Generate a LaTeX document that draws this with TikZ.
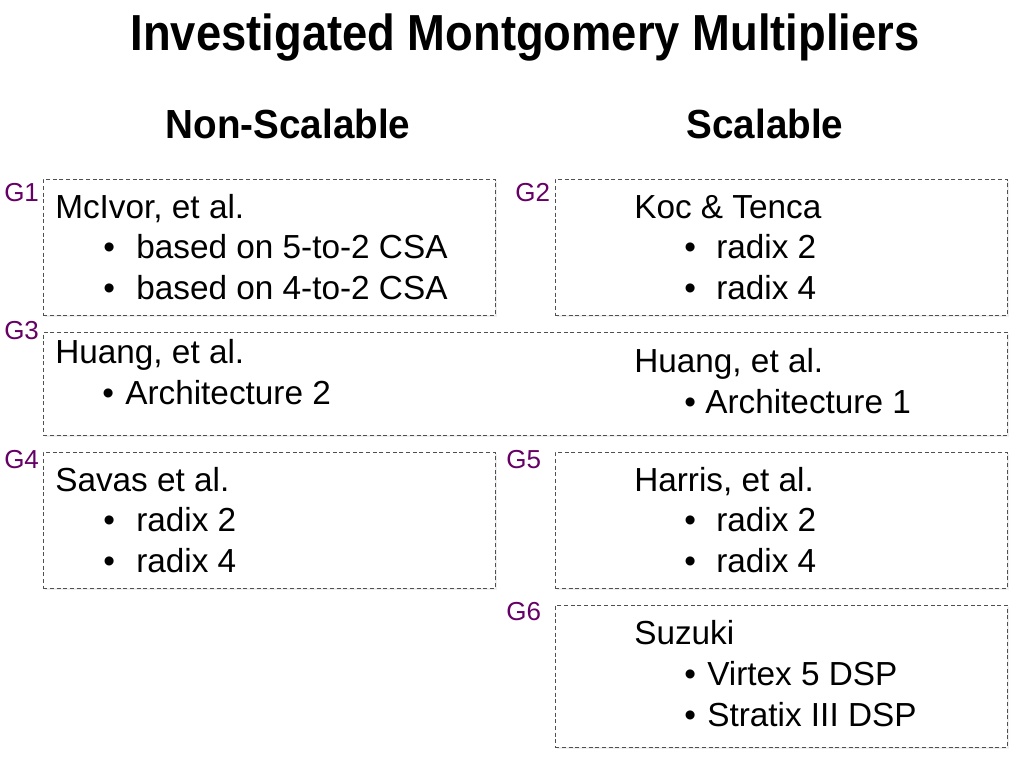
\documentclass[tikz,border=0pt]{standalone}
\usepackage{fontspec}
\usepackage{graphicx}
\setmainfont{Liberation Sans}
\usetikzlibrary{shadows}
\definecolor{glabel}{HTML}{660066}
\definecolor{boxline}{HTML}{505050}
\tikzset{
  gbox/.style={draw=boxline, line width=0.6pt, dash pattern=on 3pt off 2pt, fill=white,
    anchor=north west, inner sep=0pt,
    drop shadow={opacity=0.12, shadow xshift=1.2pt, shadow yshift=-1.2pt}},
  body/.style={anchor=base west, inner sep=0pt, font=\fontsize{25pt}{29pt}\selectfont},
  glab/.style={anchor=base west, inner sep=0pt, text=glabel, font=\fontsize{19.5pt}{22pt}\selectfont},
  head/.style={anchor=base, inner sep=0pt, font=\fontsize{30.5pt}{34pt}\selectfont\bfseries},
}
\begin{document}
\begin{tikzpicture}[x=0.75pt, y=-0.75pt]
\useasboundingbox (0,0) rectangle (1024,768);
\fill[white] (0,0) rectangle (1024,768);

% title and headings
\node[anchor=base, inner sep=0pt, font=\fontsize{38pt}{44pt}\selectfont\bfseries] (title) at (525,50) {\scalebox{0.895}[1]{Investigated Montgomery Multipliers}};
\node[head] (hns) at (288,138) {\scalebox{0.95}[1]{Non-Scalable}};
\node[head] (hs) at (765,138) {\scalebox{0.95}[1]{Scalable}};

% boxes
\node[gbox, minimum width=452*0.75pt, minimum height=136*0.75pt] (g1) at (43,179) {};
\node[gbox, minimum width=452*0.75pt, minimum height=136*0.75pt] (g2) at (555,179) {};
\node[gbox, minimum width=964*0.75pt, minimum height=103*0.75pt] (g3) at (43,332) {};
\node[gbox, minimum width=452*0.75pt, minimum height=136*0.75pt] (g4) at (43,452) {};
\node[gbox, minimum width=452*0.75pt, minimum height=136*0.75pt] (g5) at (555,452) {};
\node[gbox, minimum width=452*0.75pt, minimum height=142*0.75pt] (g6) at (555,605) {};

% group labels
\node[glab] (l1) at (4,201) {G1};
\node[glab] (l2) at (515,201) {G2};
\node[glab] (l3) at (4,339) {G3};
\node[glab] (l4) at (4,468) {G4};
\node[glab] (l5) at (506,468) {G5};
\node[glab] (l6) at (506,620) {G6};

% G1
\node[body] (t1) at (55,218) {McIvor, et al.};
\node[body] (b1a) at (103,258) {•};
\node[body] (t1a) at (136,258) {based on 5-to-2 CSA};
\node[body] (b1b) at (103,299) {•};
\node[body] (t1b) at (136,299) {based on 4-to-2 CSA};

% G2
\node[body] (t2) at (634,218) {Koc \& Tenca};
\node[body] (b2a) at (684,258) {•};
\node[body] (t2a) at (716,258) {radix 2};
\node[body] (b2b) at (684,299) {•};
\node[body] (t2b) at (716,299) {radix 4};

% G3
\node[body] (t3) at (55,363) {Huang, et al.};
\node[body] (b3) at (102,404) {•};
\node[body] (t3a) at (125,404) {Architecture 2};
\node[body] (t3r) at (634,372) {Huang, et al.};
\node[body] (b3r) at (684,413) {•};
\node[body] (t3ra) at (705,413) {Architecture 1};

% G4
\node[body] (t4) at (55,491) {Savas et al.};
\node[body] (b4a) at (103,531) {•};
\node[body] (t4a) at (136,531) {radix 2};
\node[body] (b4b) at (103,572) {•};
\node[body] (t4b) at (136,572) {radix 4};

% G5
\node[body] (t5) at (634,491) {Harris, et al.};
\node[body] (b5a) at (684,531) {•};
\node[body] (t5a) at (716,531) {radix 2};
\node[body] (b5b) at (684,572) {•};
\node[body] (t5b) at (716,572) {radix 4};

% G6
\node[body] (t6) at (634,644) {Suzuki};
\node[body] (b6a) at (684,685) {•};
\node[body] (t6a) at (707,685) {Virtex 5 DSP};
\node[body] (b6b) at (684,726) {•};
\node[body] (t6b) at (707,726) {Stratix III DSP};
\end{tikzpicture}
\end{document}
